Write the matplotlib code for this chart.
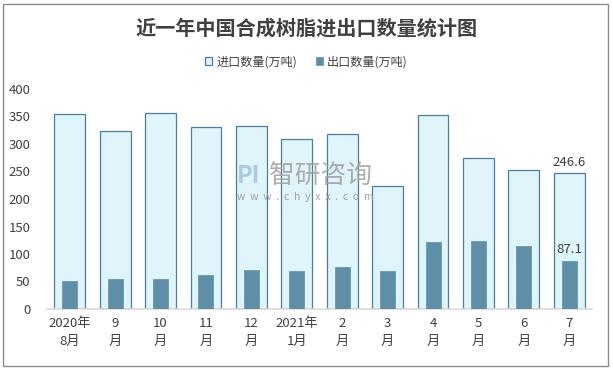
import matplotlib
matplotlib.use('Agg')
import matplotlib.pyplot as plt
import numpy as np
from matplotlib.patches import Rectangle

plt.rcParams['font.family'] = ['Noto Sans CJK SC', 'DejaVu Sans']

# ---------------------------------------------------------------------------
# Data
# ---------------------------------------------------------------------------
months = ['2020年\n8月', '9\n月', '10\n月', '11\n月', '12\n月', '2021年\n1月',
          '2\n月', '3\n月', '4\n月', '5\n月', '6\n月', '7\n月']
imports = [354.5, 323, 356, 330, 332, 308.5, 319, 223, 352, 274, 252, 246.6]
exports = [51, 54.5, 54.5, 62, 71, 69, 76.5, 69, 122, 124, 114.5, 87.1]

# ---------------------------------------------------------------------------
# Plot
# ---------------------------------------------------------------------------
fig = plt.figure(figsize=(6.13, 3.70), dpi=100)
ax = fig.add_axes([47 / 613, 1 - 309 / 370, 545 / 613, 220 / 370])

x = np.arange(len(months))
ax.bar(x, imports, width=0.68, color='#DFF4FB', edgecolor='#4E7E98',
       linewidth=0.9, label='进口数量(万吨)', zorder=2)
ax.bar(x, exports, width=0.33, color='#5E8FA6', edgecolor='#5E8FA6',
       linewidth=0.5, label='出口数量(万吨)', zorder=3)

# data labels on the last month
ax.text(x[-1], imports[-1] + 8, '%.1f' % imports[-1], ha='center',
        va='bottom', fontsize=9.5, color='#404040', zorder=4)
ax.text(x[-1], exports[-1] + 9, '%.1f' % exports[-1], ha='center',
        va='bottom', fontsize=9.5, color='#404040', zorder=4)

ax.set_xlim(-0.5, len(months) - 0.5)
ax.set_ylim(0, 400)
ax.set_yticks(np.arange(0, 401, 50))
ax.set_xticks(x)
ax.set_xticklabels(months, fontsize=9.5, color='#404040', linespacing=1.45)
ax.tick_params(axis='y', labelsize=9.5, labelcolor='#404040', length=0, pad=12)
ax.tick_params(axis='x', length=0, pad=6)
for s in ['top', 'right', 'left']:
    ax.spines[s].set_visible(False)
ax.spines['bottom'].set_color('#D9D9D9')
ax.spines['bottom'].set_linewidth(1.2)

# title and legend
fig.text(0.5, 1 - 28 / 370, '近一年中国合成树脂进出口数量统计图', ha='center',
         va='center', fontsize=14.5, fontweight='bold', color='#404040')
fig.legend(loc='center', bbox_to_anchor=(0.5, 1 - 62 / 370), ncol=2,
           frameon=False, fontsize=8.7, handlelength=0.6, handleheight=0.6,
           handletextpad=0.3, columnspacing=1.6, labelcolor='#404040')

# watermark
fig.text(320 / 613, 1 - 176 / 370, '智研咨询', ha='center', va='center',
         fontsize=18.5, color='#a0a0a0', alpha=0.85, zorder=5)
fig.text(305 / 613, 1 - 197 / 370, 'w  w  w  .  c  h  y  x  x  .  c  o  m',
         ha='center', va='center', fontsize=7.5, color='#999999',
         alpha=0.9, zorder=5)
fig.text(249 / 613, 1 - 176 / 370, 'PI', ha='center', va='center',
         fontsize=17, fontweight='bold', color='#a9c6dd', alpha=0.9, zorder=5)

# outer frame
fig.patches.append(Rectangle((3 / 613, 4 / 370), 605 / 613, 362 / 370,
                             transform=fig.transFigure, fill=False,
                             edgecolor='#8C8C8C', linewidth=1.0))

fig.savefig('out.png', dpi=100)
plt.close(fig)
